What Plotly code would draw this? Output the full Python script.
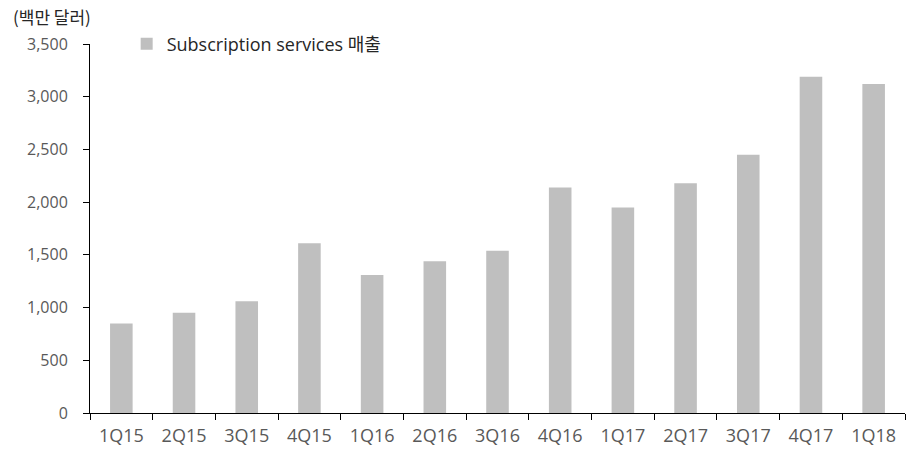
import plotly.graph_objects as go

categories = ["1Q15", "2Q15", "3Q15", "4Q15", "1Q16", "2Q16", "3Q16",
              "4Q16", "1Q17", "2Q17", "3Q17", "4Q17", "1Q18"]
revenue = [850, 950, 1060, 1610, 1310, 1440, 1540, 2140, 1950, 2180, 2450, 3190, 3120]
series_name = "Subscription services 매출"
unit_label = "(백만 달러)"

FONT = "Open Sans, Noto Sans CJK KR"
TXT = "#595959"

fig = go.Figure()
fig.add_trace(go.Bar(
    x=categories, y=revenue, name=series_name,
    marker=dict(color="#bfbfbf", line=dict(width=0)),
    showlegend=True,
))

fig.update_layout(
    width=908, height=450,
    margin=dict(l=90, r=3, t=44, b=37),
    paper_bgcolor="white", plot_bgcolor="white",
    font=dict(family=FONT, size=15, color=TXT),
    bargap=0.64,
    showlegend=True,
    legend=dict(x=0.045, y=1.0, xanchor="left", yanchor="middle",
                font=dict(family=FONT, size=18, color="#262626"),
                bgcolor="rgba(0,0,0,0)", itemwidth=30, tracegroupgap=0),
    xaxis=dict(
        showline=True, linecolor="#000", linewidth=1,
        ticks="outside", tickson="boundaries", ticklen=6, tickcolor="#000",
        showgrid=False, tickfont=dict(family=FONT, size=18, color=TXT),
        ticklabelstandoff=6,
    ),
    yaxis=dict(
        range=[0, 3500], dtick=500, tickformat=",",
        showline=True, linecolor="#000", linewidth=1,
        ticks="outside", ticklen=6, tickcolor="#000",
        showgrid=False, zeroline=False,
        tickfont=dict(family=FONT, size=16, color=TXT),
        ticklabelstandoff=12,
    ),
    annotations=[dict(text=unit_label, xref="paper", yref="paper",
                      x=-0.097, y=1.035, xanchor="left", yanchor="bottom",
                      showarrow=False,
                      font=dict(family="Noto Sans CJK KR", size=17, color="#262626"))],
)

fig.write_html("out.html")
